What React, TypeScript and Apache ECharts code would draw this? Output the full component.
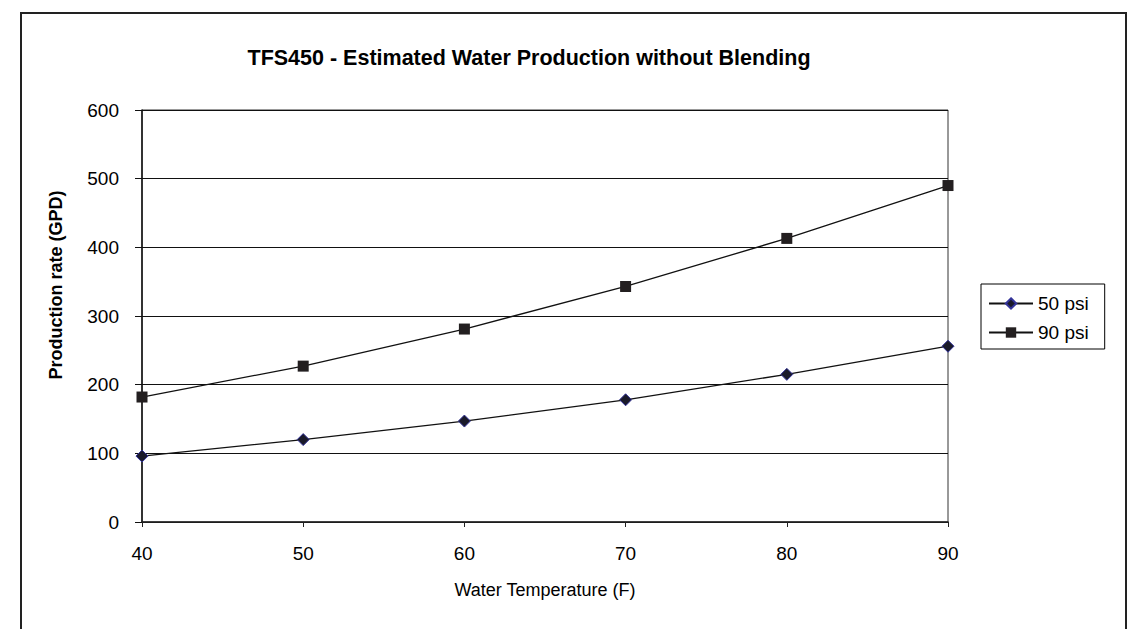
import React, { useEffect, useRef } from "react";
import * as echarts from "echarts";

const temperatures = [40, 50, 60, 70, 80, 90];
const psi50 = [96, 120, 147, 178, 215, 256];
const psi90 = [182, 227, 281, 343, 413, 490];
const seriesNames = ["50 psi", "90 psi"];
const titleText = "TFS450 - Estimated Water Production without Blending";
const xName = "Water Temperature (F)";
const yName = "Production rate (GPD)";

const FONT = "'Liberation Sans Narrow', 'Arial Narrow', 'Liberation Sans', Arial, sans-serif";

export default function App() {
  const ref = useRef<HTMLDivElement>(null);
  useEffect(() => {
    if (!ref.current) return;
    const chart = echarts.init(ref.current, null, { renderer: "svg" });
    const pairs = (vals: number[]) => temperatures.map((t, i) => [t, vals[i]]);
    chart.setOption({
      animation: false,
      backgroundColor: "#ffffff",
      textStyle: { fontFamily: FONT, color: "#000" },
      title: {
        text: titleText,
        left: 524,
        top: 42,
        textAlign: "center",
        textStyle: { fontFamily: FONT, fontWeight: "bold", fontSize: 21.5, color: "#000" },
      },
      graphic: [
        {
          type: "rect",
          shape: { x: 21, y: 13, width: 1105, height: 700 },
          style: { fill: "none", stroke: "#222", lineWidth: 2 },
          silent: true,
        },
      ],
      legend: {
        orient: "vertical",
        left: 981,
        top: 284,
        data: seriesNames,
        itemWidth: 44,
        itemHeight: 13,
        itemGap: 10,
        padding: [10, 16, 7, 7],
        borderColor: "#000",
        borderWidth: 1,
        textStyle: { fontFamily: FONT, fontSize: 19, color: "#000" },
      },
      grid: {
        left: 142,
        right: 182,
        top: 110,
        bottom: 107,
        show: true,
        borderColor: "#333",
        borderWidth: 1,
        backgroundColor: "transparent",
      },
      xAxis: {
        type: "value",
        min: 40,
        max: 90,
        interval: 10,
        name: xName,
        nameLocation: "middle",
        nameGap: 59,
        nameTextStyle: { fontFamily: FONT, fontSize: 18, color: "#000" },
        axisLine: { show: true, lineStyle: { color: "#222", width: 1.5 } },
        axisTick: { show: true, length: 5, lineStyle: { color: "#222" } },
        axisLabel: { margin: 22, fontFamily: FONT, fontSize: 19, color: "#000" },
        splitLine: { show: false },
      },
      yAxis: {
        type: "value",
        min: 0,
        max: 600,
        interval: 100,
        name: yName,
        nameLocation: "middle",
        nameGap: 77,
        nameTextStyle: { fontFamily: FONT, fontSize: 18, fontWeight: "bold", color: "#000", padding: [0, 0, 0, 62] },
        axisLine: { show: true, lineStyle: { color: "#111", width: 1.5 } },
        axisTick: { show: true, length: 7, lineStyle: { color: "#111" } },
        axisLabel: { margin: 23, fontFamily: FONT, fontSize: 19, color: "#000" },
        splitLine: { show: true, lineStyle: { color: "#111", width: 1.2 } },
      },
      series: [
        {
          name: seriesNames[0],
          type: "line",
          data: pairs(psi50),
          symbol: "diamond",
          symbolSize: 12,
          lineStyle: { color: "#111", width: 1.3 },
          itemStyle: { color: "#1a1a2a", borderColor: "#333399", borderWidth: 1 },
          z: 3,
        },
        {
          name: seriesNames[1],
          type: "line",
          data: pairs(psi90),
          symbol: "rect",
          symbolSize: 11,
          lineStyle: { color: "#111", width: 1.3 },
          itemStyle: { color: "#231f20", borderColor: "#231f20", borderWidth: 0 },
          z: 3,
        },
      ],
    });
    return () => chart.dispose();
  }, []);
  return (
    <div
      ref={ref}
      style={{ position: "absolute", left: 0, top: 0, width: 1130, height: 629 }}
    />
  );
}
